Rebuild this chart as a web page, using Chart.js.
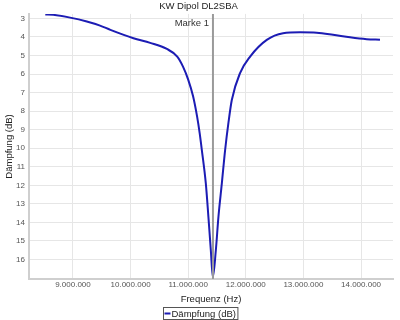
<!DOCTYPE html>
<html><head><meta charset="utf-8">
<script src="https://cdn.jsdelivr.net/npm/chart.js@4/dist/chart.umd.min.js"></script>
<style>html,body{margin:0;padding:0;background:#fff}canvas{display:block}</style>
</head><body>
<canvas id="c" width="400" height="320"></canvas>
<script>
const titleText = 'KW Dipol DL2SBA';
const seriesName = 'Dämpfung (dB)';
const xTitle = 'Frequenz (Hz)';
const yTitle = 'Dämpfung (dB)';
const markerLabel = 'Marke 1';
const markerFreq = 11430000;
const xTicks = [9000000, 10000000, 11000000, 12000000, 13000000, 14000000];
const yTicks = [3,4,5,6,7,8,9,10,11,12,13,14,15,16];
const freqs = [8520000, 8660000, 8950000, 9240000, 9470000, 9650000, 10050000, 10340000, 10630000, 10810000, 10910000, 11000000, 11085000, 11155000, 11200000, 11237000, 11306000, 11351000, 11393000, 11428000, 11480000, 11525000, 11584000, 11641000, 11700000, 11757000, 11900000, 12075000, 12364000, 12647000, 12941000, 13231000, 13514000, 13809000, 14098000, 14329000];
const damp  = [2.79, 2.81, 2.96, 3.17, 3.39, 3.62, 4.07, 4.32, 4.65, 5.06, 5.6, 6.3, 7.2, 8.3, 9.2, 10.1, 11.9, 13.7, 15.5, 16.95, 15.5, 13.7, 11.9, 10.1, 8.6, 7.4, 5.95, 5.06, 4.16, 3.8, 3.75, 3.77, 3.88, 4.02, 4.12, 4.15];

const fmt = v => Math.round(v).toString().replace(/\B(?=(\d{3})+(?!\d))/g, '.');
const FONT = "'Liberation Sans', Arial, sans-serif";
const LINE_COLOR = '#1c1cb4';

const markerPlugin = {
  id: 'marker',
  afterDatasetsDraw(chart) {
    const {ctx, chartArea} = chart;
    const x = chart.scales.x.getPixelForValue(markerFreq);
    ctx.save();
    ctx.strokeStyle = '#9a9a9a';
    ctx.lineWidth = 2;
    ctx.beginPath();
    ctx.moveTo(x, chartArea.top);
    ctx.lineTo(x, chartArea.bottom);
    ctx.stroke();
    ctx.fillStyle = '#333';
    ctx.font = '9.5px ' + FONT;
    ctx.textAlign = 'right';
    ctx.textBaseline = 'middle';
    ctx.fillText(markerLabel, x - 4, chartArea.top + 9);
    ctx.restore();
  },
  afterDraw(chart) {
    const ctx = chart.ctx;
    ctx.save();
    ctx.font = '9.5px ' + FONT;
    const tw = ctx.measureText(seriesName).width;
    const sample = 6, gap = 1;
    const w = 1 + sample + gap + tw + 2;
    const left = Math.round(chart.width / 2 - w / 2) + 0.5;
    const top = 307.5, h = 12;
    ctx.strokeStyle = '#555';
    ctx.lineWidth = 1;
    ctx.strokeRect(left, top, w, h);
    ctx.strokeStyle = LINE_COLOR;
    ctx.lineWidth = 2;
    ctx.beginPath();
    ctx.moveTo(left + 1, top + h / 2);
    ctx.lineTo(left + 1 + sample, top + h / 2);
    ctx.stroke();
    ctx.fillStyle = '#222';
    ctx.textAlign = 'left';
    ctx.textBaseline = 'middle';
    ctx.fillText(seriesName, left + 1 + sample + gap, top + h / 2 + 0.5);
    ctx.restore();
  }
};

new Chart(document.getElementById('c'), {
  type: 'line',
  data: {
    datasets: [{
      label: seriesName,
      data: freqs.map((f, i) => ({x: f, y: damp[i]})),
      borderColor: LINE_COLOR,
      backgroundColor: LINE_COLOR,
      borderWidth: 2,
      pointRadius: 0,
      cubicInterpolationMode: 'monotone',
      fill: false
    }]
  },
  options: {
    responsive: false,
    animation: false,
    devicePixelRatio: 1,
    layout: {padding: {top: 0, right: 7, bottom: 15, left: 4}},
    plugins: {
      title: {display: true, text: titleText, color: '#222', font: {family: FONT, size: 9.5, weight: 'normal'}, padding: {top: 1, bottom: 1.5}},
      legend: {display: false},
      tooltip: {enabled: false}
    },
    scales: {
      x: {
        type: 'linear', min: 8237000, max: 14555000,
        afterBuildTicks: s => { s.ticks = xTicks.map(v => ({value: v})); },
        afterFit: s => { s.height = 26; },
        ticks: {callback: v => fmt(v), color: '#555', font: {family: FONT, size: 8}, maxRotation: 0, padding: 1},
        grid: {color: '#e6e6e6', drawTicks: false},
        border: {color: '#cfcfcf', width: 2},
        title: {display: true, text: xTitle, color: '#222', font: {family: FONT, size: 9.5}, padding: {top: 3, bottom: 0}}
      },
      y: {
        type: 'linear', reverse: true, min: 2.76, max: 17.05,
        afterBuildTicks: s => { s.ticks = yTicks.map(v => ({value: v})); },
        afterFit: s => { s.width = 25; },
        ticks: {color: '#555', font: {family: FONT, size: 8}, padding: 4},
        grid: {color: '#e6e6e6', drawTicks: false},
        border: {color: '#cfcfcf', width: 2},
        title: {display: true, text: yTitle, color: '#222', font: {family: FONT, size: 9.5}, padding: {top: 0, bottom: 0}}
      }
    }
  },
  plugins: [markerPlugin]
});
</script>
</body></html>
